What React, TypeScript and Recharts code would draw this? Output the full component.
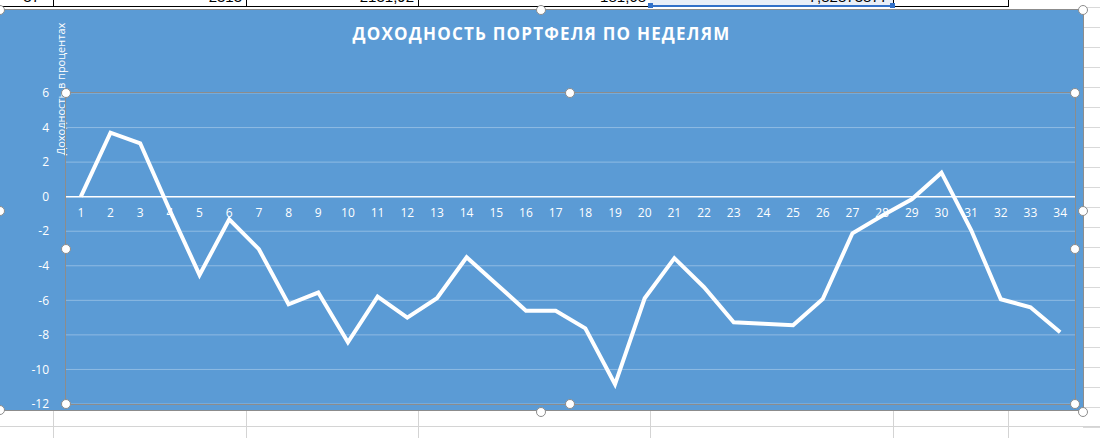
import { LineChart, Line, XAxis, YAxis, CartesianGrid, ReferenceLine } from 'recharts';

const weeks = [
  '1', '2', '3', '4', '5', '6', '7', '8', '9', '10', '11', '12', '13', '14', '15', '16', '17',
  '18', '19', '20', '21', '22', '23', '24', '25', '26', '27', '28', '29', '30', '31', '32', '33', '34',
];

const returns = [
  0, 3.7, 3.09, -0.8, -4.53, -1.31, -3.04, -6.23, -5.55, -8.43, -5.79, -7.0, -5.88, -3.51, -5.05,
  -6.6, -6.6, -7.62, -10.86, -5.88, -3.56, -5.24, -7.27, -7.35, -7.44, -5.92, -2.12, -1.1, -0.15,
  1.39, -1.93, -5.94, -6.4, -7.85,
];

const yTicks = [-12, -10, -8, -6, -4, -2, 0, 2, 4, 6];

const data = weeks.map((w, i) => ({ week: w, value: returns[i] }));

const CHART_W = 1083;
const CHART_H = 400;
const PLOT_TOP = 83;
const PLOT_H = 311;
const PLOT_W = 1009;
const Y_MIN = -12;
const Y_MAX = 6;
const HALF_BAND = PLOT_W / weeks.length / 2;
const FONT = '"Open Sans", "Noto Sans", sans-serif';

// category labels sit just under the zero line, like Excel does
const WeekTick = (props: any) => {
  const { x, payload } = props;
  const zeroY = PLOT_TOP + PLOT_H * (Y_MAX / (Y_MAX - Y_MIN));
  return (
    <text x={x} y={zeroY + 20} textAnchor="middle" fill="#ffffff" fontSize={12} fontFamily={FONT}>
      {payload.value}
    </text>
  );
};

const Handle = ({ x, y }: { x: number; y: number }) => (
  <div
    style={{
      position: 'absolute',
      left: x - 5,
      top: y - 5,
      width: 8,
      height: 8,
      borderRadius: '50%',
      background: '#fff',
      border: '1.5px solid #8c8c8c',
    }}
  />
);

const colLines = [53, 246, 418, 650, 893, 1008];
const rightRows = Array.from({ length: 22 }, (_, i) => 7 + i * 20);

const App = () => {
  return (
    <div style={{ position: 'relative', width: 1100, height: 438, background: '#fff', overflow: 'hidden', fontFamily: FONT }}>
      <style>{'body{margin:0}'}</style>

      {/* spreadsheet behind the chart */}
      {colLines.map((x) => (
        <div key={'t' + x} style={{ position: 'absolute', left: x, top: 0, width: 1, height: 7, background: '#000' }} />
      ))}
      <div style={{ position: 'absolute', left: 650, top: 0, width: 243, height: 6, background: '#e8eef8' }} />
      <div style={{ position: 'absolute', left: 0, top: 6, width: 1008, height: 1, background: '#000' }} />
      <div style={{ position: 'absolute', left: 650, top: 5, width: 243, height: 2, background: '#3170c9' }} />
      <div style={{ position: 'absolute', left: 648, top: 3, width: 5, height: 5, background: '#3170c9' }} />
      <div style={{ position: 'absolute', left: 890, top: 3, width: 5, height: 5, background: '#3170c9' }} />
      {[
        { t: '37', r: 1100 - 40 },
        { t: '2313', r: 1100 - 242 },
        { t: '2131,92', r: 1100 - 414 },
        { t: '181,68', r: 1100 - 646 },
        { t: '7,82873877', r: 1100 - 888 },
      ].map((c) => (
        <div key={c.t} style={{ position: 'absolute', right: c.r, top: -12, fontSize: 15, fontFamily: 'Liberation Sans, sans-serif', color: '#000' }}>
          {c.t}
        </div>
      ))}
      {rightRows.map((y) => (
        <div key={'r' + y} style={{ position: 'absolute', left: 1083, top: y, width: 17, height: 1, background: '#d9d9d9' }} />
      ))}
      <div style={{ position: 'absolute', left: 0, top: 426, width: 1100, height: 1, background: '#d4d4d4' }} />
      {colLines.map((x) => (
        <div key={'b' + x} style={{ position: 'absolute', left: x, top: 411, width: 1, height: 27, background: '#d4d4d4' }} />
      ))}

      {/* chart area */}
      <div
        style={{
          position: 'absolute',
          left: 0,
          top: 10,
          width: CHART_W,
          height: CHART_H,
          background: '#5b9bd5',
          boxShadow: '0 0 0 1px #8c8c8c',
        }}
      >
        <div
          style={{
            position: 'absolute',
            left: 0,
            width: CHART_W,
            top: 12,
            textAlign: 'center',
            color: '#fff',
            fontWeight: 700,
            fontSize: 17,
            letterSpacing: 1.2,
          }}
        >
          ДОХОДНОСТЬ ПОРТФЕЛЯ ПО НЕДЕЛЯМ
        </div>
        <div
          style={{
            position: 'absolute',
            left: 60,
            top: 79,
            transform: 'translate(-50%, -50%) rotate(-90deg)',
            whiteSpace: 'nowrap',
            color: '#fff',
            fontSize: 11,
          }}
        >
          Доходность в процентах
        </div>
        <LineChart width={CHART_W} height={CHART_H} data={data} margin={{ top: PLOT_TOP, right: 8, bottom: 5, left: 0 }}>
          <CartesianGrid vertical={false} stroke="#8fbbe3" strokeWidth={1} />
          <XAxis
            dataKey="week"
            height={1}
            axisLine={false}
            tickLine={false}
            tick={<WeekTick />}
            interval={0}
            padding={{ left: HALF_BAND, right: HALF_BAND }}
          />
          <YAxis
            width={66}
            domain={[Y_MIN, Y_MAX]}
            ticks={yTicks}
            interval={0}
            axisLine={false}
            tickLine={false}
            tickMargin={11}
            tick={{ fill: '#ffffff', fontSize: 12, fontFamily: FONT }}
          />
          <ReferenceLine y={0} stroke="#ffffff" strokeWidth={1.5} />
          <Line
            type="linear"
            dataKey="value"
            stroke="#ffffff"
            strokeWidth={4}
            dot={false}
            isAnimationActive={false}
          />
        </LineChart>
        <div
          style={{
            position: 'absolute',
            left: 66,
            top: PLOT_TOP,
            width: PLOT_W,
            height: PLOT_H,
            boxShadow: '0 0 0 1px #8c8c8c',
            pointerEvents: 'none',
          }}
        />
      </div>

      {/* selection handles */}
      {[
        [0, 10], [541, 10], [1083, 10], [0, 211], [1083, 211], [0, 410], [541, 412], [1083, 412],
        [66, 93], [570, 93], [1075, 93], [66, 249], [1075, 249], [66, 404], [570, 404], [1075, 404],
      ].map(([x, y]) => (
        <Handle key={x + '-' + y} x={x} y={y} />
      ))}
    </div>
  );
};

export default App;
